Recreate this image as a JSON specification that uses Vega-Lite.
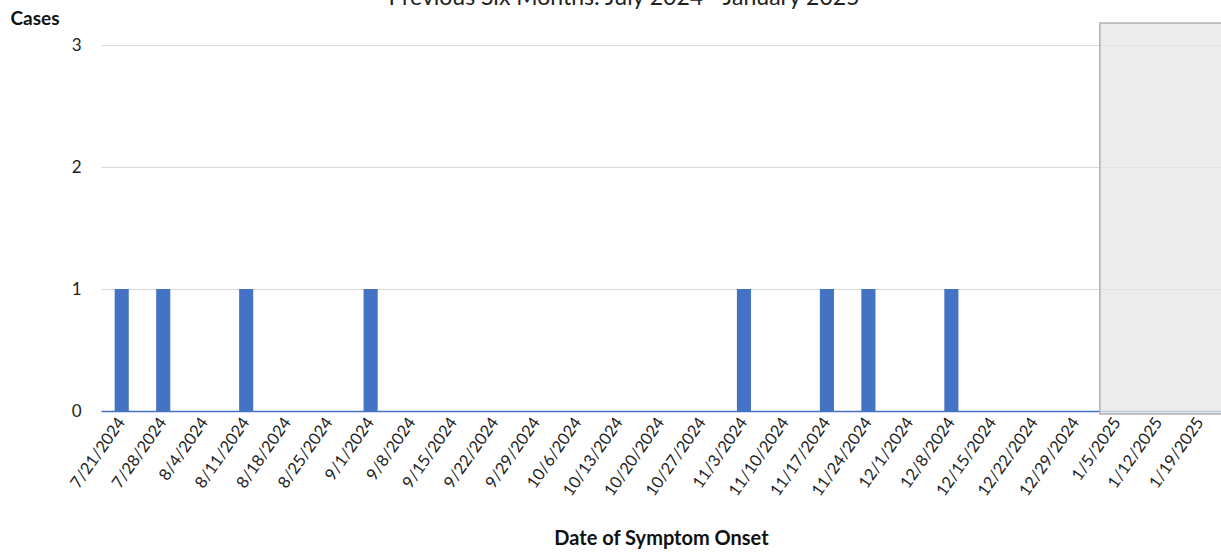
{
  "$schema": "https://vega.github.io/schema/vega-lite/v6.json",
  "width": 1120,
  "height": 366,
  "autosize": "none",
  "padding": {"left": 101, "top": 45, "right": 0, "bottom": 145},
  "background": "white",
  "title": {
    "text": "Previous Six Months: July 2024 - January 2025",
    "anchor": "middle",
    "frame": "group",
    "font": "Lato",
    "fontSize": 23,
    "fontWeight": "normal",
    "color": "#222222",
    "baseline": "alphabetic",
    "offset": 0,
    "dy": 19,
    "dx": -37
  },
  "config": {"view": {"stroke": null}, "font": "Lato"},
  "datasets": {
    "cases": [
      {"date": "7/21/2024", "cases": 1},
      {"date": "7/28/2024", "cases": 1},
      {"date": "8/4/2024", "cases": 0},
      {"date": "8/11/2024", "cases": 1},
      {"date": "8/18/2024", "cases": 0},
      {"date": "8/25/2024", "cases": 0},
      {"date": "9/1/2024", "cases": 1},
      {"date": "9/8/2024", "cases": 0},
      {"date": "9/15/2024", "cases": 0},
      {"date": "9/22/2024", "cases": 0},
      {"date": "9/29/2024", "cases": 0},
      {"date": "10/6/2024", "cases": 0},
      {"date": "10/13/2024", "cases": 0},
      {"date": "10/20/2024", "cases": 0},
      {"date": "10/27/2024", "cases": 0},
      {"date": "11/3/2024", "cases": 1},
      {"date": "11/10/2024", "cases": 0},
      {"date": "11/17/2024", "cases": 1},
      {"date": "11/24/2024", "cases": 1},
      {"date": "12/1/2024", "cases": 0},
      {"date": "12/8/2024", "cases": 1},
      {"date": "12/15/2024", "cases": 0},
      {"date": "12/22/2024", "cases": 0},
      {"date": "12/29/2024", "cases": 0},
      {"date": "1/5/2025", "cases": 0},
      {"date": "1/12/2025", "cases": 0},
      {"date": "1/19/2025", "cases": 0}
    ],
    "shade": [
      {"start": "1/5/2025", "end": "1/19/2025", "top": 3.18, "bottom": -0.025}
    ]
  },
  "layer": [
    {
      "data": {"name": "cases"},
      "mark": {"type": "bar", "color": "#4472C4", "width": {"band": 0.34}},
      "encoding": {
        "x": {
          "field": "date",
          "type": "ordinal",
          "sort": null,
          "scale": {
            "domain": ["7/21/2024","7/28/2024","8/4/2024","8/11/2024","8/18/2024","8/25/2024","9/1/2024","9/8/2024","9/15/2024","9/22/2024","9/29/2024","10/6/2024","10/13/2024","10/20/2024","10/27/2024","11/3/2024","11/10/2024","11/17/2024","11/24/2024","12/1/2024","12/8/2024","12/15/2024","12/22/2024","12/29/2024","1/5/2025","1/12/2025","1/19/2025"],
            "paddingInner": 0,
            "paddingOuter": 0
          },
          "axis": {
            "title": "Date of Symptom Onset",
            "titleFont": "Lato",
            "titleFontSize": 20,
            "titleFontWeight": "bold",
            "titleColor": "#111111",
            "titlePadding": 30,
            "labelAngle": -55,
            "labelAlign": "right",
            "labelBaseline": "middle",
            "labelFont": "Lato",
            "labelFontSize": 16.5,
            "labelColor": "#222222",
            "labelPadding": 8,
            "ticks": false,
            "domainColor": "#4472C4",
            "domainWidth": 1.5,
            "grid": false
          }
        },
        "y": {
          "field": "cases",
          "type": "quantitative",
          "scale": {"domain": [0, 3]},
          "axis": {
            "values": [0, 1, 2, 3],
            "format": "d",
            "title": "Cases",
            "titleAngle": 0,
            "titleAlign": "left",
            "titleBaseline": "alphabetic",
            "titleX": -91,
            "titleY": -21,
            "titleFont": "Lato",
            "titleFontSize": 19,
            "titleFontWeight": "bold",
            "titleColor": "#111111",
            "labelFont": "Lato",
            "labelFontSize": 17,
            "labelColor": "#222222",
            "labelPadding": 20,
            "ticks": false,
            "domain": false,
            "gridColor": "#d9d9d9",
            "gridWidth": 1
          }
        }
      }
    },
    {
      "data": {"name": "shade"},
      "mark": {"type": "rect", "fill": "#e6e6e6", "fillOpacity": 0.75, "stroke": "#b0b0b0", "strokeWidth": 1.5, "clip": false},
      "encoding": {
        "x": {"field": "start", "type": "ordinal", "sort": null, "bandPosition": 0.08},
        "x2": {"field": "end", "bandPosition": 1.2},
        "y": {"field": "top", "type": "quantitative"},
        "y2": {"field": "bottom"}
      }
    }
  ]
}
